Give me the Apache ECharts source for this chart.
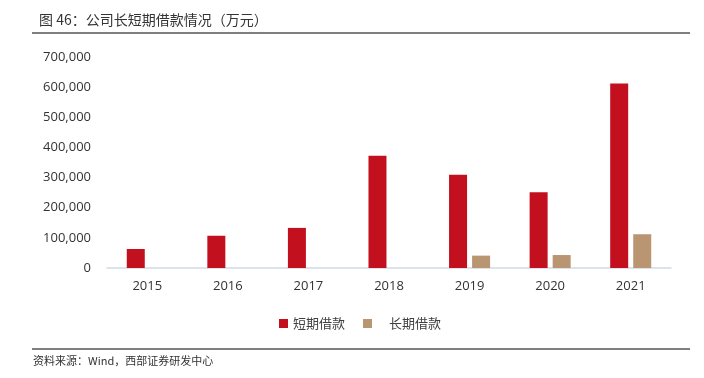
<!DOCTYPE html>
<html>
<head>
<meta charset="utf-8">
<script src="https://cdn.jsdelivr.net/npm/echarts@6/dist/echarts.min.js"></script>
<style>
  html, body { margin: 0; padding: 0; background: #fff; }
  #chart { width: 704px; height: 378px; }
</style>
</head>
<body>
<div id="chart"></div>
<script>
// data
const years = ['2015', '2016', '2017', '2018', '2019', '2020', '2021']
const shortLoans = [63000, 107000, 133000, 372000, 309000, 251000, 612000]
const longLoans = [null, null, null, null, 41000, 43000, 112000]
const seriesNames = ['短期借款', '长期借款']

const chart = echarts.init(document.getElementById('chart'))

const option = {
  animation: false,
  title: {
    text: '图 46：公司长短期借款情况（万元）',
    left: 34,
    top: 8,
    textStyle: {
      fontFamily: 'Noto Sans CJK SC',
      fontSize: 14,
      fontWeight: 'normal',
      color: '#333'
    }
  },
  graphic: [
    {
      type: 'line',
      shape: {x1: 32, y1: 33, x2: 690, y2: 33},
      style: {stroke: '#7f7f7f', lineWidth: 2}
    },
    {
      type: 'line',
      shape: {x1: 32, y1: 349, x2: 690, y2: 349},
      style: {stroke: '#7f7f7f', lineWidth: 2}
    },
    {
      type: 'text',
      left: 33,
      top: 355,
      style: {
        text: '资料来源：Wind，西部证券研发中心',
        font: '11px "Noto Sans CJK SC"',
        fill: '#333'
      }
    }
  ],
  legend: {
    top: 312,
    left: 274,
    itemWidth: 9,
    itemHeight: 9,
    itemGap: 18,
    icon: 'rect',
    textStyle: {
      fontFamily: 'Noto Sans CJK SC',
      fontSize: 13,
      color: '#404040'
    },
    data: [
      {name: seriesNames[0]},
      {name: seriesNames[1], textStyle: {padding: [0, 0, 0, 12]}}
    ]
  },
  grid: {
    left: 107,
    right: 33,
    top: 57,
    bottom: 110
  },
  xAxis: {
    type: 'category',
    data: years,
    axisTick: {show: false},
    axisLine: {lineStyle: {color: '#d0dce6', width: 1.5}},
    axisLabel: {
      color: '#333',
      fontSize: 13,
      fontFamily: 'Open Sans',
      margin: 12
    }
  },
  yAxis: {
    type: 'value',
    min: 0,
    max: 700000,
    interval: 100000,
    splitLine: {show: false},
    axisLine: {show: false},
    axisTick: {show: false},
    axisLabel: {
      color: '#333',
      fontSize: 13,
      fontFamily: 'Open Sans',
      margin: 16,
      formatter: (v) => v.toLocaleString('en-US')
    }
  },
  series: [
    {
      name: seriesNames[0],
      type: 'bar',
      data: shortLoans,
      barWidth: 18,
      barGap: '28%',
      itemStyle: {color: '#c3101e'}
    },
    {
      name: seriesNames[1],
      type: 'bar',
      data: longLoans,
      barWidth: 18,
      itemStyle: {color: '#b99572'}
    }
  ]
}

chart.setOption(option)
</script>
</body>
</html>
